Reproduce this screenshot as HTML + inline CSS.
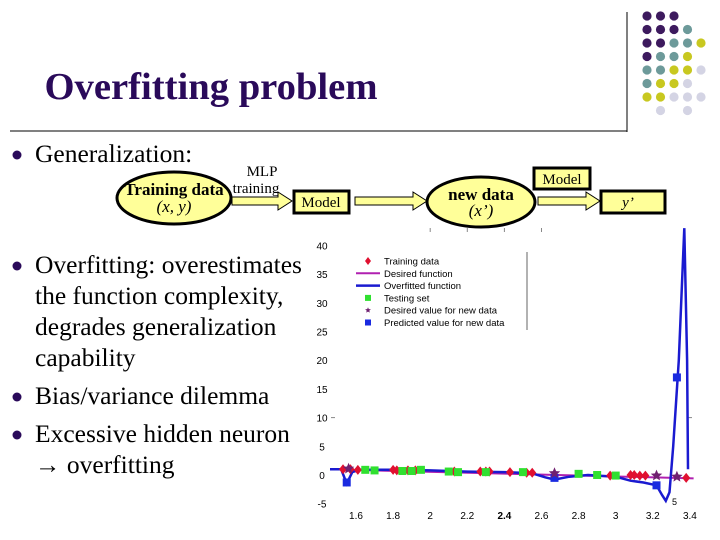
<!DOCTYPE html>
<html><head><meta charset="utf-8"><style>
html,body{margin:0;padding:0;background:#fff;}
#s{position:relative;width:720px;height:540px;overflow:hidden;font-family:"Liberation Serif",serif;}
</style></head><body>
<div id="s">
<svg width="720" height="540" viewBox="0 0 720 540">
<g id="dots"></g>
<line x1="627" y1="12" x2="627" y2="132" stroke="#000" stroke-width="1"/>
<line x1="10" y1="131" x2="627" y2="131" stroke="#000" stroke-width="1"/>
<text x="211" y="99" text-anchor="middle" font-size="38" font-weight="bold" fill="#2a0a5a" textLength="333" lengthAdjust="spacingAndGlyphs">Overfitting problem</text>

<g font-size="25.5" fill="#000">
<circle cx="17" cy="155" r="4.5" fill="#2a0a5a"/>
<text x="35" y="162">Generalization:</text>
<circle cx="17" cy="266" r="4.5" fill="#2a0a5a"/>
<text x="35" y="273">Overfitting: overestimates</text>
<text x="35" y="304">the function complexity,</text>
<text x="35" y="335">degrades generalization</text>
<text x="35" y="366">capability</text>
<circle cx="17" cy="397" r="4.5" fill="#2a0a5a"/>
<text x="35" y="404">Bias/variance dilemma</text>
<circle cx="17" cy="435" r="4.5" fill="#2a0a5a"/>
<text x="35" y="442">Excessive hidden neuron</text>
<text x="35" y="473">→ overfitting</text>
</g>

<g>
<ellipse cx="174" cy="198" rx="57" ry="26" fill="#ffff99" stroke="#000" stroke-width="3"/>
<text x="174" y="195" text-anchor="middle" font-size="17" font-weight="bold">Training data</text>
<text x="174" y="212" text-anchor="middle" font-size="17" font-style="italic">(x, y)</text>
<text x="262" y="176" text-anchor="middle" font-size="15">MLP</text>
<text x="256" y="193" text-anchor="middle" font-size="15">training</text>
<path d="M232,197 h46 v-5 l14,9 l-14,9 v-5 h-46 z" fill="#ffff99" stroke="#000" stroke-width="1"/>
<rect x="294" y="191" width="55" height="22" fill="#ffff99" stroke="#000" stroke-width="3"/>
<text x="321" y="207" text-anchor="middle" font-size="15">Model</text>
<path d="M355,197 h58 v-5 l14,9 l-14,9 v-5 h-58 z" fill="#ffff99" stroke="#000" stroke-width="1"/>
<ellipse cx="481" cy="202" rx="54" ry="25" fill="#ffff99" stroke="#000" stroke-width="3"/>
<text x="481" y="200" text-anchor="middle" font-size="17" font-weight="bold">new data</text>
<text x="481" y="216" text-anchor="middle" font-size="17" font-style="italic">(x’)</text>
<path d="M538,197 h48 v-5 l14,9 l-14,9 v-5 h-48 z" fill="#ffff99" stroke="#000" stroke-width="1"/>
<rect x="534" y="168" width="56" height="21" fill="#ffff99" stroke="#000" stroke-width="3"/>
<text x="562" y="184" text-anchor="middle" font-size="15">Model</text>
<rect x="601" y="191" width="64" height="22" fill="#ffff99" stroke="#000" stroke-width="3"/>
<text x="628" y="207" text-anchor="middle" font-size="15" font-style="italic">y’</text>
</g>

<g id="chart" font-family="Liberation Sans, sans-serif" font-size="10"></g>
</svg>
</div>
<script>
const NS="http://www.w3.org/2000/svg";
function mk(tag,attrs,parent){const e=document.createElementNS(NS,tag);for(const k in attrs)e.setAttribute(k,attrs[k]);parent.appendChild(e);return e;}

const dotColors={P:"#3d1a5e",T:"#6d9a9a",Y:"#c8c820",L:"#d4d4e4"};
const dotRows=["PPP..","PPPT.","PPTTY","PTTY.","TTYYL","TYYL.","YYLLL",".L.L."];
const dg=document.getElementById("dots");
dotRows.forEach((row,r)=>{[...row].forEach((c,i)=>{if(!dotColors[c])return;
 const d=mk("circle",{cx:647+i*13.5,cy:16+r*13.5,r:4.6,fill:dotColors[c]},dg);
 
 });});

const xTicks=[1.6,1.8,2,2.2,2.4,2.6,2.8,3,3.2,3.4];
const yTicks=[40,35,30,25,20,15,10,5,0,-5];
const desiredX=[1.46,3.42];
const desiredY=[1.0,-0.6];
const overX=[1.46,1.52,1.55,1.58,1.62,1.8,2.0,2.2,2.4,2.55,2.62,2.67,2.75,2.85,3.0,3.08,3.15,3.22,3.25,3.27,3.29,3.31,3.34,3.37,3.385,3.39];
const overY=[1.0,1.0,-1.5,0.5,0.9,0.9,0.8,0.6,0.5,0.3,-0.4,-0.8,-0.3,0.0,-0.3,-1.0,-1.3,-1.8,-3.5,-4.5,-3.0,5,20,43,20,1];
const trainX=[1.53,1.57,1.61,1.8,1.82,1.88,1.92,2.13,2.27,2.3,2.32,2.43,2.52,2.55,2.97,3.08,3.1,3.13,3.16,3.38];
const trainY=[1.0,1.0,0.9,0.9,0.8,0.8,0.8,0.6,0.6,0.6,0.6,0.5,0.4,0.4,-0.1,0,0,-0.1,-0.1,-0.5];
const testX=[1.65,1.7,1.85,1.9,1.95,2.1,2.15,2.3,2.5,2.8,2.9,3.0];
const testY=[0.9,0.8,0.7,0.7,0.9,0.6,0.5,0.5,0.5,0.2,0.0,-0.1];
const starX=[1.56,2.67,3.22,3.33];
const starY=[1.1,0.3,-0.1,-0.3];
const predX=[1.55,2.67,3.22,3.33];
const predY=[-1.3,-0.5,-1.8,17];

const X=v=>356+(v-1.6)/0.2*37.1;
const Y=v=>475-v/5*28.7;
const g=document.getElementById("chart");

yTicks.forEach(t=>{const e=mk("text",{x:322,y:Y(t)+4,"text-anchor":"middle",fill:"#000"},g);e.textContent=t;
 });
xTicks.forEach(t=>{const e=mk("text",{x:X(t),y:519,"text-anchor":"middle",fill:"#000","font-weight":(t===2.4?"bold":"normal")},g);e.textContent=t;
 });
[2.0,2.2,2.4,2.6].forEach(t=>{const e=mk("line",{x1:X(t),x2:X(t),y1:228,y2:232,stroke:"#888"},g);
 });
const tk=mk("line",{x1:331,x2:335,y1:Y(10),y2:Y(10),stroke:"#888"},g);

const tk2=mk("line",{x1:688,x2:692,y1:Y(10),y2:Y(10),stroke:"#888"},g);


const pts=(xs,ys)=>xs.map((x,i)=>X(x).toFixed(1)+","+Y(ys[i]).toFixed(1)).join(" ");
const dl=mk("polyline",{points:pts(desiredX,desiredY),fill:"none",stroke:"#b020b0","stroke-width":2},g);

const ol=mk("polyline",{points:pts(overX,overY),fill:"none",stroke:"#1a1ad0","stroke-width":2.5},g);


trainX.forEach((x,i)=>{const cx=X(x),cy=Y(trainY[i]);
 const e=mk("path",{d:`M${cx},${cy-5}L${cx+4},${cy}L${cx},${cy+5}L${cx-4},${cy}Z`,fill:"#e01030"},g);
 });
testX.forEach((x,i)=>{const e=mk("rect",{x:X(x)-4,y:Y(testY[i])-4,width:8,height:8,fill:"#30e030"},g);
 });
function star(cx,cy,r){let d="";for(let k=0;k<10;k++){const a=-Math.PI/2+k*Math.PI/5,rr=k%2?r*0.45:r;d+=(k?"L":"M")+(cx+rr*Math.cos(a)).toFixed(1)+","+(cy+rr*Math.sin(a)).toFixed(1);}return d+"Z";}
predX.forEach((x,i)=>{const e=mk("rect",{x:X(x)-4,y:Y(predY[i])-4,width:8,height:8,fill:"#1a2ae0"},g);
 });
starX.forEach((x,i)=>{const e=mk("path",{d:star(X(x),Y(starY[i]),6),fill:"#702070"},g);
 });
const f5=mk("text",{x:672,y:505,fill:"#000","font-size":"9"},g);f5.textContent="5";


const lg=mk("g",{},g);

const lb=mk("line",{x1:527,x2:527,y1:252,y2:330,stroke:"#666"},lg);

const legendLabels=["Training data","Desired function","Overfitted function","Testing set","Desired value for new data","Predicted value for new data"];
legendLabels.forEach((t,i)=>{const y=261+i*12.3;
 let m;
 if(i===0)m=mk("path",{d:`M368,${y-4}L371,${y}L368,${y+4}L365,${y}Z`,fill:"#e01030"},lg);
 else if(i===1)m=mk("line",{x1:356,x2:380,y1:y,y2:y,stroke:"#b020b0","stroke-width":2},lg);
 else if(i===2)m=mk("line",{x1:356,x2:380,y1:y,y2:y,stroke:"#1a1ad0","stroke-width":2.5},lg);
 else if(i===3)m=mk("rect",{x:365,y:y-3,width:6,height:6,fill:"#30e030"},lg);
 else if(i===4)m=mk("path",{d:star(368,y,3),fill:"#702070"},lg);
 else m=mk("rect",{x:365,y:y-3,width:6,height:6,fill:"#1a2ae0"},lg);
 
 const e=mk("text",{x:384,y:y+3.5,fill:"#000","font-size":"9.5"},lg);e.textContent=t;
 });
</script>
</body></html>
